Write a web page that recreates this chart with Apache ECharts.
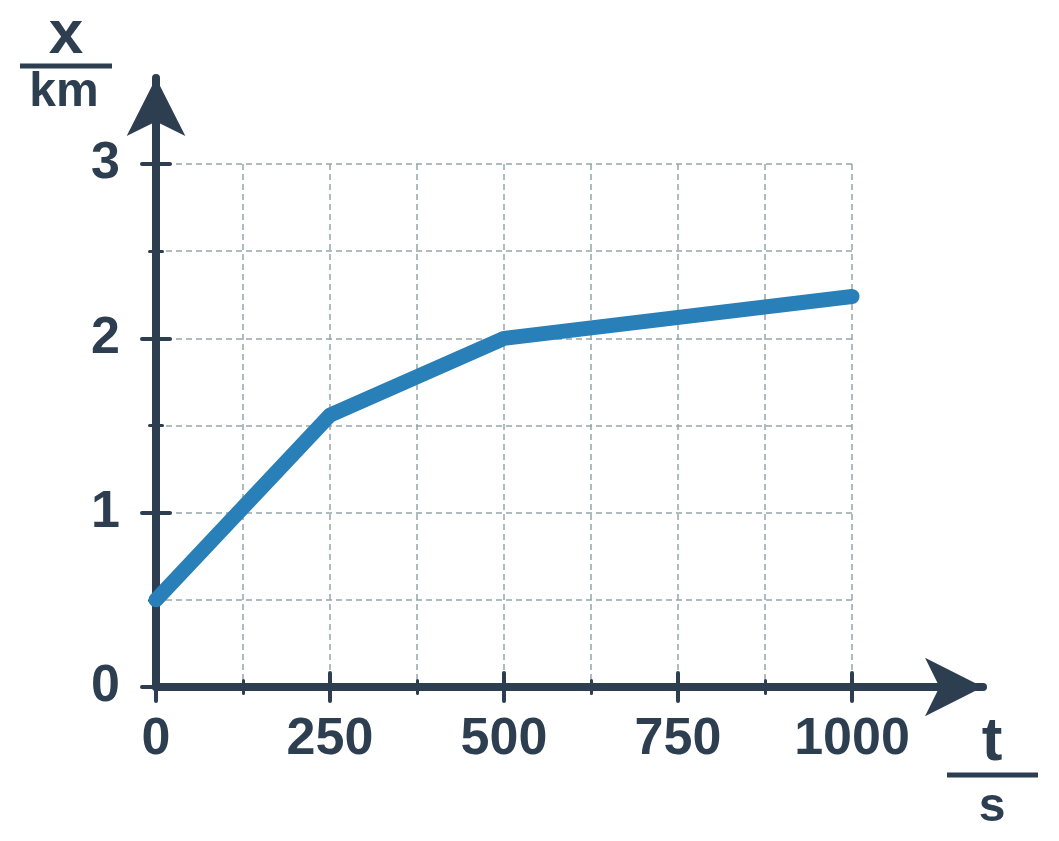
<!DOCTYPE html>
<html>
<head>
<meta charset="utf-8">
<script src="https://cdn.jsdelivr.net/npm/echarts@6/dist/echarts.min.js"></script>
<style>
html,body{margin:0;padding:0;background:#fff;}
#chart{width:1059px;height:841px;}
</style>
</head>
<body>
<div id="chart"></div>
<script>
// Data
const tValues = [0, 250, 500, 1000];
const xValues = [0.5, 1.56, 2.0, 2.24];
const xTickLabels = ['0', '250', '500', '750', '1000'];
const yTickLabels = ['0', '1', '2', '3'];
const xAxisTitle = ['t', 's'];
const yAxisTitle = ['x', 'km'];

const DARK = '#2c3e50';
const GRIDC = '#95a5a6';
const LINEC = '#2980b9';
const FONT = '"Liberation Sans", Arial, sans-serif';

const chart = echarts.init(document.getElementById('chart'), null, {renderer: 'canvas'});

const gridMain = {left: 156, right: 207, top: 164, bottom: 154};
const gridAxes = {left: 156, right: 76, top: 78, bottom: 154};

function tickAxis(dim, gridIndex, max, interval, len, width, inside, labels) {
  const a = {
    type: 'value', gridIndex: gridIndex, min: 0, max: max, interval: interval,
    position: dim === 'x' ? 'bottom' : 'left',
    axisLine: {show: false, onZero: false},
    axisTick: {show: true, inside: inside, length: len, lineStyle: {color: DARK, width: width, cap: 'round'}},
    axisLabel: {show: false},
    splitLine: {show: false}
  };
  if (labels) {
    a.axisLabel = {
      show: true, margin: dim === 'x' ? 27 : 36, fontSize: 52, fontWeight: 'bold', color: DARK, fontFamily: FONT,
      formatter: function (v) { return labels[Math.round(v / interval)]; }
    };
  }
  return a;
}

const xMinorGrid = tickAxis('x', 0, 1000, 125, 6.5, 3, false, null);
xMinorGrid.splitLine = {show: true, lineStyle: {color: GRIDC, width: 1.5, type: [6, 4]}};
const yMinorGrid = tickAxis('y', 0, 3, 0.5, 6.5, 3, false, null);
yMinorGrid.splitLine = {show: true, lineStyle: {color: GRIDC, width: 1.5, type: [6, 4]}};

function arrowAxis(dim) {
  return {
    type: 'value', gridIndex: 1, min: 0, max: 1,
    position: dim === 'x' ? 'bottom' : 'left',
    axisLine: {show: true, onZero: false, symbol: ['none', 'arrow'], symbolSize: [44, 58],
      lineStyle: {color: DARK, width: 8, cap: 'round'}},
    axisTick: {show: false}, axisLabel: {show: false}, splitLine: {show: false}
  };
}

const option = {
  animation: false,
  backgroundColor: '#ffffff',
  grid: [
    Object.assign({containLabel: false}, gridMain),
    Object.assign({containLabel: false}, gridAxes)
  ],
  xAxis: [
    tickAxis('x', 0, 1000, 250, 14, 4, false, xTickLabels),
    tickAxis('x', 0, 1000, 250, 14, 4, true, null),
    xMinorGrid,
    tickAxis('x', 0, 1000, 125, 6.5, 3, true, null),
    arrowAxis('x')
  ],
  yAxis: [
    tickAxis('y', 0, 3, 1, 14, 4, false, yTickLabels),
    tickAxis('y', 0, 3, 1, 14, 4, true, null),
    yMinorGrid,
    tickAxis('y', 0, 3, 0.5, 6.5, 3, true, null),
    arrowAxis('y')
  ],
  series: [{
    type: 'line',
    xAxisIndex: 0, yAxisIndex: 0,
    data: tValues.map((t, i) => [t, xValues[i]]),
    showSymbol: false,
    symbol: 'none',
    lineStyle: {color: LINEC, width: 15, cap: 'round', join: 'round'},
    z: 10
  }],
  graphic: [
    {type: 'text', x: 66, y: 36, style: {text: yAxisTitle[0], textAlign: 'center', textVerticalAlign: 'middle', font: 'bold 62px ' + FONT, fill: DARK}},
    {type: 'rect', shape: {x: 20, y: 63.5, width: 92, height: 5}, style: {fill: DARK}},
    {type: 'text', x: 64, y: 93, style: {text: yAxisTitle[1], textAlign: 'center', textVerticalAlign: 'middle', font: 'bold 48px ' + FONT, fill: DARK}},
    {type: 'text', x: 992, y: 743, style: {text: xAxisTitle[0], textAlign: 'center', textVerticalAlign: 'middle', font: 'bold 62px ' + FONT, fill: DARK}},
    {type: 'rect', shape: {x: 947, y: 772.5, width: 91, height: 5}, style: {fill: DARK}},
    {type: 'text', x: 992, y: 808, style: {text: xAxisTitle[1], textAlign: 'center', textVerticalAlign: 'middle', font: 'bold 48px ' + FONT, fill: DARK}}
  ]
};
chart.setOption(option);
</script>
</body>
</html>
